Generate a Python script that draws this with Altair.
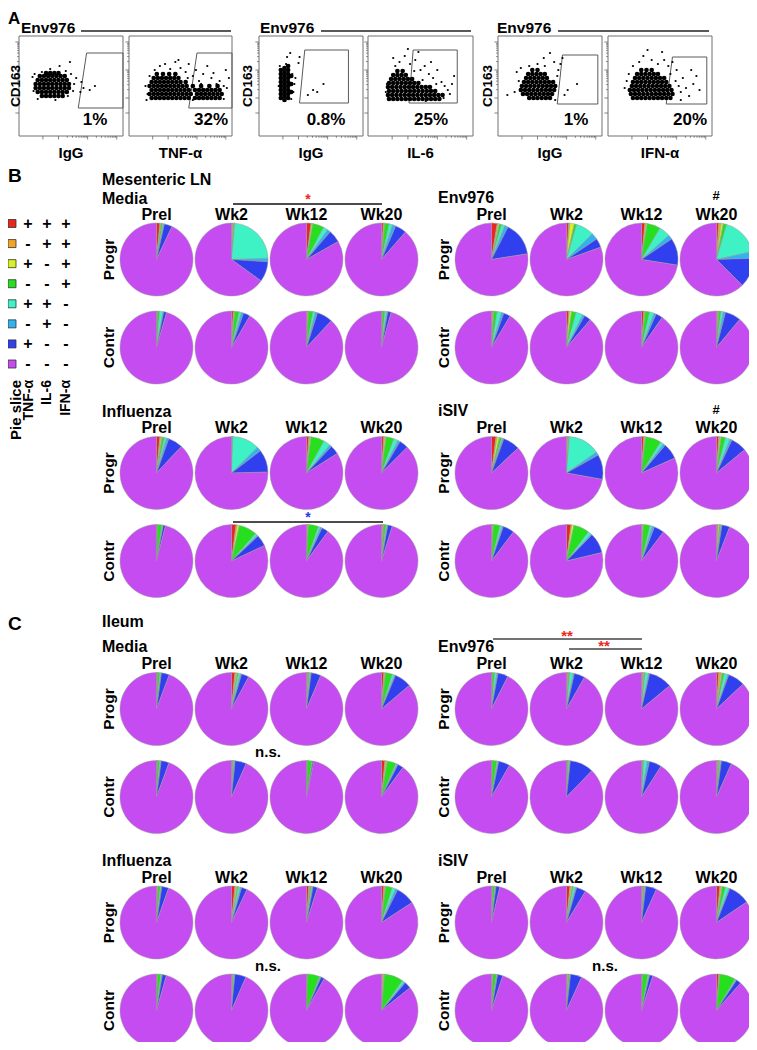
import altair as alt
import pandas as pd

FONT = "Liberation Sans"

# ======================= VALUES =======================
# ---- Panel A: flow cytometry dot plots (box units: x 0-100 left->right, y 0-100 bottom->top)
A_XLABELS = ["IgG", "TNF-α", "IgG", "IL-6", "IgG", "IFN-α"]
A_PERCENTS = ["1%", "32%", "0.8%", "25%", "1%", "20%"]
A_YLABEL = "CD163"
A_STIM = "Env976"

# dense cores, read row by row ({y: [x, ...]})
P1_CORE = {40: [22, 26, 30, 34, 38, 42], 44: [18, 22, 26, 30, 34, 38, 42, 46],
           48: [16, 20, 24, 28, 32, 36, 40, 44, 48], 52: [16, 20, 24, 28, 32, 36, 40, 44, 48],
           56: [18, 22, 26, 30, 34, 38, 42, 46], 60: [20, 24, 28, 32, 36, 40, 44], 63: [26, 30, 34, 38]}
P2_CORE = {38: [22, 26, 30, 34, 38, 42, 46, 50, 54, 58, 64, 68, 72, 76, 80, 84, 88],
           42: [20, 24, 28, 32, 36, 40, 44, 48, 52, 56, 60, 66, 70, 74, 78, 82, 86, 90],
           46: [22, 26, 30, 34, 38, 42, 46, 50, 54, 58, 64, 68, 72, 76, 80, 84, 88],
           50: [20, 24, 28, 32, 36, 40, 44, 48, 52, 56, 62, 70, 78, 86],
           54: [22, 26, 30, 34, 38, 42, 46, 50, 55], 58: [24, 28, 32, 36, 40, 44, 48], 62: [27, 33, 39, 45]}
P3_CORE = {36: [24.5], 38: [21, 28], 40: [24.5], 42: [21, 28], 44: [24.5, 31], 46: [21, 28], 48: [24.5],
           50: [21, 28], 52: [24.5, 31], 54: [21, 28], 56: [24.5], 58: [21, 28], 60: [24.5, 31],
           62: [21, 28], 64: [24.5], 66: [21, 28], 68: [24.5], 70: [28]}
P4_CORE = {37: [20, 24, 28, 32, 36, 40, 44, 48, 52, 56, 60, 64, 68],
           41: [19, 23, 27, 31, 35, 39, 43, 47, 51, 55, 59, 63, 67, 71],
           45: [20, 24, 28, 32, 36, 40, 44, 48, 52, 56, 60, 64],
           49: [19, 23, 27, 31, 35, 39, 43, 47, 51, 55, 59], 53: [20, 24, 28, 32, 36, 40, 44, 48],
           57: [22, 26, 30, 34, 38, 42], 61: [24, 28, 32, 36], 65: [28, 33]}
P5_CORE = {38: [30, 34, 38, 42, 46, 50], 42: [24, 28, 32, 36, 40, 44, 48, 52],
           46: [22, 26, 30, 34, 38, 42, 46, 50, 54], 50: [23, 27, 31, 35, 39, 43, 47, 51, 55],
           54: [25, 29, 33, 37, 41, 45, 49, 53], 58: [27, 31, 35, 39, 43, 47], 62: [29, 33, 37, 41, 45],
           66: [33, 38]}
P6_CORE = {38: [24, 28, 32, 36, 40, 44, 48, 52, 56, 60], 42: [22, 26, 30, 34, 38, 42, 46, 50, 54, 58, 62],
           46: [21, 25, 29, 33, 37, 41, 45, 49, 53, 57, 61], 50: [23, 27, 31, 35, 39, 43, 47, 51, 55, 59],
           54: [24, 28, 32, 36, 40, 44, 48, 52, 56], 58: [26, 30, 34, 38, 42, 46, 50, 54],
           62: [28, 32, 36, 40, 44, 48], 66: [32, 37, 42]}
# scattered single events
P1_SPARSE = [(15, 62), (14, 45), (50, 62), (52, 45), (49, 74), (39, 70), (60, 54), (62, 48), (73, 50), (68, 46),
             (59, 44), (13, 59), (18, 37), (55, 58), (47, 40), (30, 67), (22, 64), (45, 65), (53, 52), (35, 36)]
P2_SPARSE = [(16, 50), (18, 42), (20, 60), (25, 66), (30, 70), (35, 72), (40, 67), (45, 74), (50, 68), (55, 64),
             (58, 72), (62, 60), (65, 66), (68, 55), (72, 62), (76, 70), (80, 58), (85, 52), (88, 55), (92, 50),
             (95, 48), (97, 58), (94, 66), (48, 76), (57, 58), (82, 63), (70, 52), (62, 36), (92, 37), (17, 36)]
P3_SPARSE = [(20, 70), (32, 62), (33, 44), (26, 72), (27, 79), (30, 83), (39, 79), (38, 73), (62, 52), (52, 46),
             (56, 44), (47, 41), (34, 52), (19, 50), (31, 37), (35, 58)]
P4_SPARSE = [(18, 52), (17, 44), (26, 70), (30, 74), (35, 80), (40, 72), (45, 76), (50, 66), (54, 70), (58, 62),
             (62, 58), (66, 66), (70, 54), (73, 50), (76, 46), (72, 38), (80, 52), (78, 42), (60, 74), (48, 84),
             (38, 87), (52, 56), (24, 78), (65, 52), (82, 60), (55, 35), (44, 65)]
P5_SPARSE = [(20, 55), (18, 64), (22, 68), (9, 41), (16, 44), (30, 70), (38, 72), (45, 70), (50, 83), (62, 78),
             (60, 72), (57, 60), (67, 46), (76, 52), (64, 41), (58, 66), (54, 74), (44, 78), (35, 37), (55, 36)]
P6_SPARSE = [(18, 55), (20, 62), (24, 70), (30, 74), (34, 80), (42, 76), (48, 72), (52, 84), (58, 70), (60, 62),
             (65, 55), (68, 50), (70, 44), (72, 58), (75, 48), (78, 40), (82, 52), (85, 60), (88, 46), (80, 66),
             (66, 66), (54, 76), (38, 86), (62, 74), (70, 36), (16, 48)]

GATES = [
    [(65, 83), (100, 83), (100, 28), (57, 28)],
    [(66, 83), (100, 83), (100, 28), (58, 28)],
    [(44, 86), (86, 86), (86, 33), (39, 33)],
    [(43, 86), (85, 86), (85, 33), (39, 33)],
    [(62, 81), (96, 81), (96, 32), (57, 32)],
    [(62, 79), (95, 79), (95, 32), (56, 32)],
]
AXIS_MAJOR_TICKS = [23, 38, 66, 94]
AXIS_MINOR_TICKS = [46.4, 51.4, 54.9, 57.6, 59.8, 61.7, 63.3, 64.7,
                    74.4, 79.4, 82.9, 85.6, 87.8, 89.7, 91.3, 92.7]

# ---- Pie slices (legend order) and colours
SLICES = ["TNF+ IL6+ IFN+", "TNF- IL6+ IFN+", "TNF+ IL6- IFN+", "TNF- IL6- IFN+",
          "TNF+ IL6+ IFN-", "TNF- IL6+ IFN-", "TNF+ IL6- IFN-", "TNF- IL6- IFN-"]
SLICE_COLORS = ["#e8281e", "#f2a526", "#d6f227", "#26e01f", "#3ff2c6", "#31b3f0", "#3040ee", "#c44cf0"]
TNF_SIGN = ["+", "-", "+", "-", "+", "-", "+", "-"]
IL6_SIGN = ["+", "+", "-", "-", "+", "+", "-", "-"]
IFN_SIGN = ["+", "+", "+", "+", "-", "-", "-", "-"]
TIMEPOINTS = ["Prel", "Wk2", "Wk12", "Wk20"]

# percentages of the first 7 slices (red..blue); the purple slice is the rest
# ---- B: mesenteric LN
MLN_MEDIA_PROGR = [[1.5, 0.2, 0.3, 0.7, 0.5, 0.3, 3.5], [0.5, 0.2, 0.3, 0.5, 23, 1.5, 9],
                   [2, 0.3, 0.5, 5, 2, 1.5, 5.5], [0.8, 0.3, 0.3, 2, 1.5, 1.5, 5]]
MLN_MEDIA_CONTR = [[0.2, 0, 0.2, 1, 1.5, 0.3, 1.3], [0.8, 0.3, 0.3, 2, 1, 1, 3],
                   [0.5, 0.2, 0.2, 2, 1, 1, 7], [0.3, 0, 0.2, 1, 0.8, 0.5, 1.5]]
MLN_ENV_PROGR = [[2.5, 0.5, 0.5, 1, 1.5, 1.5, 15], [1, 0.5, 2, 1, 8, 3, 4],
                 [1.5, 0.5, 0.5, 6, 5, 2, 12], [1, 1, 1, 1.5, 17, 3, 13]]
MLN_ENV_CONTR = [[0.5, 0.2, 0.3, 1.5, 2, 1, 3], [1, 0.3, 1, 2, 3, 1, 3],
                 [1, 0.3, 0.3, 2, 2, 1, 3], [0.5, 0.3, 0.2, 1, 1, 1, 7]]
MLN_INFL_PROGR = [[1.5, 0.5, 0.5, 1, 1, 1, 6.5], [0.3, 0, 0, 0.3, 12, 2, 10],
                  [1, 0.5, 0.5, 6, 3, 1, 4], [1, 0.5, 0.5, 3.5, 2, 1, 4]]
MLN_INFL_CONTR = [[0.2, 0, 0.2, 2, 0.3, 0.3, 1], [2, 0.5, 1, 8, 1, 0.5, 5],
                  [0.5, 0, 0.3, 4.5, 1, 0.7, 3], [0.5, 0.3, 0.2, 1, 0.5, 0.3, 2]]
MLN_ISIV_PROGR = [[2, 0.5, 1, 1, 0.5, 0.5, 7.5], [0.5, 0.2, 0.3, 0.3, 14, 1.5, 11],
                  [1, 0.5, 0.3, 7, 1.5, 1, 7], [1, 0.5, 0.5, 2, 2, 1, 7]]
MLN_ISIV_CONTR = [[0.5, 0, 0.3, 3, 1, 0.5, 5], [2, 0.3, 1, 7, 1.5, 0.5, 9],
                  [0.3, 0.2, 0.3, 3, 1, 1, 4.5], [0.5, 0.3, 0.5, 0.5, 0.3, 0.3, 3.5]]
# ---- C: ileum
IL_MEDIA_PROGR = [[0.3, 0, 0.2, 1, 0.5, 0.2, 3.5], [1.5, 0.5, 0.5, 0.5, 1, 0.5, 3.3],
                  [0.5, 0.2, 0.2, 0.5, 0.5, 0.2, 4.3], [1, 0.5, 0.3, 3, 1, 0.5, 7.5]]
IL_MEDIA_CONTR = [[0.2, 0, 0.2, 1, 0.5, 0.2, 3.5], [0.3, 0, 0.2, 0.5, 0.3, 0.3, 5],
                  [0.2, 0, 0.2, 2, 0.3, 0.1, 0.5], [1.5, 0.5, 0.5, 4, 0.5, 0.5, 2.5]]
IL_ENV_PROGR = [[0.2, 0, 0.2, 1, 1, 0.5, 4.5], [0.5, 0.3, 0.2, 0.5, 1.5, 0.5, 4.7],
                [0.5, 0.3, 0.3, 0.5, 1.5, 0.5, 10.4], [1, 1, 0.5, 1, 1.5, 0.5, 7.5]]
IL_ENV_CONTR = [[0.2, 0, 0.2, 2, 0.5, 0.3, 5], [0.3, 0, 0.2, 0.5, 0.5, 0.2, 10.5],
                [0.3, 0, 0.2, 0.5, 1.5, 1, 5.5], [0.5, 0.3, 0.2, 0.5, 0.5, 0.2, 4.5]]
IL_INFL_PROGR = [[0.5, 0, 0.2, 1, 0.5, 0.2, 3], [1.5, 0.5, 0.5, 0.5, 1, 0.5, 2.5],
                 [1, 0.5, 0.2, 0.5, 0.5, 0.2, 2], [1, 0.5, 0.3, 3, 1.5, 1, 8.5]]
IL_INFL_CONTR = [[0.2, 0, 0.2, 1.5, 0.5, 0.2, 1.8], [0.3, 0, 0.2, 0.5, 0.3, 0.2, 5],
                 [0.2, 0, 0.2, 5.5, 0.3, 0.4, 1.5], [0.5, 0.5, 0.3, 8.5, 1, 0.5, 3]]
IL_ISIV_PROGR = [[0.3, 0, 0.2, 1, 0.3, 0.2, 1.7], [1.5, 0.5, 0.5, 0.5, 1, 0.5, 4.2],
                 [0.5, 0.2, 0.2, 0.5, 0.3, 0.2, 4.8], [1.5, 0.5, 0.5, 1.5, 1.5, 0.5, 9.5]]
IL_ISIV_CONTR = [[0.5, 0, 0.2, 1.5, 0.3, 0.2, 2.3], [0.3, 0.3, 0.2, 0.5, 0.3, 0.2, 5],
                 [0.2, 0, 0.2, 2.5, 0.5, 0.2, 1.5], [1, 0.3, 0.2, 7, 0.5, 0.3, 2.2]]

PIE_SETS = {
    ("MLN", "Media"): (MLN_MEDIA_PROGR, MLN_MEDIA_CONTR),
    ("MLN", "Env976"): (MLN_ENV_PROGR, MLN_ENV_CONTR),
    ("MLN", "Influenza"): (MLN_INFL_PROGR, MLN_INFL_CONTR),
    ("MLN", "iSIV"): (MLN_ISIV_PROGR, MLN_ISIV_CONTR),
    ("IL", "Media"): (IL_MEDIA_PROGR, IL_MEDIA_CONTR),
    ("IL", "Env976"): (IL_ENV_PROGR, IL_ENV_CONTR),
    ("IL", "Influenza"): (IL_INFL_PROGR, IL_INFL_CONTR),
    ("IL", "iSIV"): (IL_ISIV_PROGR, IL_ISIV_CONTR),
}

# ======================= LAYOUT (page pixels) =======================
PX = alt.Scale(domain=[8, 749], range=[0, 741], nice=False, zero=False)
PY = alt.Scale(domain=[8, 1042], range=[0, 1034], nice=False, zero=False)
A_BOXES = [(19, 123, 36, 136), (129, 232, 36, 136), (259, 363, 36, 136),
           (368, 473, 36, 136), (498, 602, 36, 136), (608, 712, 36, 136)]
TISSUE_TOP_Y = {"MLN": 259.5, "IL": 709}
STIM_POS = {"Media": ("L", 0), "Env976": ("R", 0), "Influenza": ("L", 1), "iSIV": ("R", 1)}
BLOCK_X0 = {"L": 156.5, "R": 491.5}
COL_DX, BLOCK_DY, ROW_DY, PIE_R = 75, 213.5, 88, 36.5


def XQ(f):
    return alt.X(f"{f}:Q", scale=PX, axis=None)


def YQ(f):
    return alt.Y(f"{f}:Q", scale=PY, axis=None)


def texts(rows, size, align="left", baseline="alphabetic", angle=0, color="black"):
    df = pd.DataFrame(rows, columns=["x", "y", "label"])
    kw = dict(font=FONT, fontWeight="bold", fontSize=size, align=align, baseline=baseline, color=color)
    if angle:
        kw["angle"] = angle
    return alt.Chart(df).mark_text(**kw).encode(x=XQ("x"), y=YQ("y"), text="label:N")


def rules(rows, color, width):
    df = pd.DataFrame(rows, columns=["x", "y", "x2", "y2"])
    return alt.Chart(df).mark_rule(color=color, strokeWidth=width).encode(
        x=XQ("x"), y=YQ("y"), x2="x2:Q", y2="y2:Q")


def core_points(rows):
    return [(x, y) for y, xs in rows.items() for x in xs]


layers = []

# ---------------- Panel A ----------------
A_POINTS = [(P1_CORE, P1_SPARSE), (P2_CORE, P2_SPARSE), (P3_CORE, P3_SPARSE),
            (P4_CORE, P4_SPARSE), (P5_CORE, P5_SPARSE), (P6_CORE, P6_SPARSE)]
for box, (core, sparse), gate in zip(A_BOXES, A_POINTS, GATES):
    x0, x1, y0, y1 = box
    sx = alt.Scale(domain=[0, 100], range=[x0 - 8, x1 - 8], nice=False, zero=False)
    sy = alt.Scale(domain=[0, 100], range=[y1 - 8, y0 - 8], nice=False, zero=False)

    def BX(f, sx=sx):
        return alt.X(f"{f}:Q", scale=sx, axis=None)

    def BY(f, sy=sy):
        return alt.Y(f"{f}:Q", scale=sy, axis=None)

    frame = pd.DataFrame({"a": [0], "b": [100], "c": [0], "d": [100]})
    layers.append(alt.Chart(frame).mark_rect(fill="white", fillOpacity=0, stroke="#707070", strokeWidth=1)
                  .encode(x=BX("a"), x2="b:Q", y=BY("c"), y2="d:Q"))
    tick_rows = []
    for t in AXIS_MAJOR_TICKS:
        tick_rows += [(-3.5, 0, t, t), (t, t, -3.5, 0)]
    for t in AXIS_MINOR_TICKS:
        tick_rows += [(-1.8, 0, t, t), (t, t, -1.8, 0)]
    tdf = pd.DataFrame(tick_rows, columns=["xa", "xb", "ya", "yb"])
    layers.append(alt.Chart(tdf).mark_rule(color="#666", strokeWidth=0.8)
                  .encode(x=BX("xa"), x2="xb:Q", y=BY("ya"), y2="yb:Q"))
    gdf = pd.DataFrame(gate + [gate[0]], columns=["gx", "gy"])
    gdf["o"] = range(len(gdf))
    layers.append(alt.Chart(gdf).mark_line(color="#5a5a5a", strokeWidth=1)
                  .encode(x=BX("gx"), y=BY("gy"), order="o:Q"))
    cdf = pd.DataFrame(core_points(core), columns=["px", "py"])
    layers.append(alt.Chart(cdf).mark_circle(size=22, color="black", opacity=1)
                  .encode(x=BX("px"), y=BY("py")))
    sdf = pd.DataFrame(sparse, columns=["px", "py"])
    layers.append(alt.Chart(sdf).mark_circle(size=5, color="black", opacity=1)
                  .encode(x=BX("px"), y=BY("py")))

layers.append(texts([(8, 24, "A")], 17))
layers.append(texts([(8, 182, "B"), (8, 630, "C")], 19))
layers.append(texts([(21, 33, A_STIM), (260, 33, A_STIM), (497, 33, A_STIM)], 15.5))
layers.append(rules([(81, 31, 231, 31), (321, 31, 471, 31), (558, 31, 709, 31)], "#222", 1.5))
layers.append(texts([(16, 86, A_YLABEL), (248, 86, A_YLABEL), (488, 86, A_YLABEL)], 13.5,
                    align="center", baseline="middle", angle=270))
layers.append(texts([((b[0] + b[1]) / 2, 158, lab) for b, lab in zip(A_BOXES, A_XLABELS)], 15, align="center"))
layers.append(texts([(x, 125, p) for x, p in zip([95, 211, 326, 431, 576, 690], A_PERCENTS)], 17, align="center"))

# ---------------- Pies (B and C) ----------------
pie_rows = []
time_rows, group_rows = [], []
pid = 0
for (tissue, stim), (progr, contr) in PIE_SETS.items():
    side, lvl = STIM_POS[stim]
    top = TISSUE_TOP_Y[tissue] + lvl * BLOCK_DY
    for g, (gname, series) in enumerate([("Progr", progr), ("Contr", contr)]):
        cy = top + g * ROW_DY
        group_rows.append((BLOCK_X0[side] - 47.5, cy, gname))
        for t, vals in enumerate(series):
            cx = BLOCK_X0[side] + t * COL_DX
            full = list(vals) + [100 - sum(vals)]
            for k, v in enumerate(full):
                pie_rows.append({"pie": pid, "cx": cx, "cy": cy, "k": k, "slice": SLICES[k], "value": v})
            pid += 1
    for t, tp in enumerate(TIMEPOINTS):
        time_rows.append((BLOCK_X0[side] + t * COL_DX, top - 40, tp))

pie_df = pd.DataFrame(pie_rows)
COLOR_SCALE = alt.Scale(domain=SLICES, range=SLICE_COLORS)
pies = (alt.Chart(pie_df)
        .transform_stack(stack="value", groupby=["pie"], as_=["v0", "v1"],
                         sort=[alt.SortField(field="k", order="ascending")])
        .mark_arc(outerRadius=PIE_R, stroke="#9a9a9a", strokeWidth=0.5)
        .encode(x=XQ("cx"), y=YQ("cy"),
                theta=alt.Theta("v0:Q", scale=alt.Scale(domain=[0, 100], range=[0, 6.283185307]), stack=None),
                theta2="v1:Q",
                color=alt.Color("slice:N", scale=COLOR_SCALE, legend=None)))
layers.append(pies)
layers.append(texts(time_rows, 16, align="center"))
layers.append(texts(group_rows, 15.5, align="center", baseline="middle", angle=270))

layers.append(texts([(102, 185, "Mesenteric LN"), (102, 204, "Media"), (438, 203, "Env976"),
                     (102, 417, "Influenza"), (438, 416, "iSIV"),
                     (102, 627, "Ileum"), (102, 652, "Media"), (438, 652, "Env976"),
                     (102, 866, "Influenza"), (438, 866, "iSIV")], 16))
# significance marks
layers.append(rules([(233, 204, 382, 204), (233, 522, 383, 522)], "#111", 1.5))
layers.append(rules([(493, 639, 642, 639), (569, 649, 642, 649)], "#444", 1.5))
layers.append(texts([(308, 204, "*")], 14, align="center", color="#e8281e"))
layers.append(texts([(308, 522, "*")], 14, align="center", color="#2a3be0"))
layers.append(texts([(567, 641, "**"), (604, 651, "**")], 15, align="center", color="#e8281e"))
layers.append(texts([(716, 200, "#"), (716, 413.5, "#")], 13, align="center"))
layers.append(texts([(268, 757, "n.s."), (268, 970.5, "n.s."), (605, 970.5, "n.s.")], 15, align="center"))

# ---------------- Legend ----------------
leg_df = pd.DataFrame({"i": list(range(8)), "slice": SLICES, "tnf": TNF_SIGN, "il6": IL6_SIGN, "ifn": IFN_SIGN})
LEG_Y = alt.Scale(domain=[0, 7], range=[223.5 - 8, 364 - 8], nice=False, zero=False)
layers.append(alt.Chart(leg_df).mark_square(size=64, stroke="#333", strokeWidth=0.8, opacity=1)
              .encode(x=alt.value(12 - 8), y=alt.Y("i:Q", scale=LEG_Y, axis=None),
                      color=alt.Color("slice:N", scale=COLOR_SCALE, legend=None)))
for col, xpos in [("tnf", 28), ("il6", 47), ("ifn", 66)]:
    layers.append(alt.Chart(leg_df).mark_text(font=FONT, fontWeight="bold", fontSize=16, align="center",
                                              baseline="middle")
                  .encode(x=alt.value(xpos - 8), y=alt.Y("i:Q", scale=LEG_Y, axis=None), text=f"{col}:N"))
layers.append(texts([(16, 380, "Pie slice")], 15, align="right", baseline="middle", angle=270))
layers.append(texts([(29, 380, "TNF-α"), (47, 380, "IL-6"), (66, 380, "IFN-α")], 14,
                    align="right", baseline="middle", angle=270))

chart = (alt.layer(*layers)
         .resolve_scale(x="independent", y="independent")
         .properties(width=741, height=1034, padding=0, autosize=alt.AutoSizeParams(type="none"),
                     background="white")
         .configure_view(strokeWidth=0))

chart.save("out.html", embed_options={"renderer": "svg", "actions": False})
